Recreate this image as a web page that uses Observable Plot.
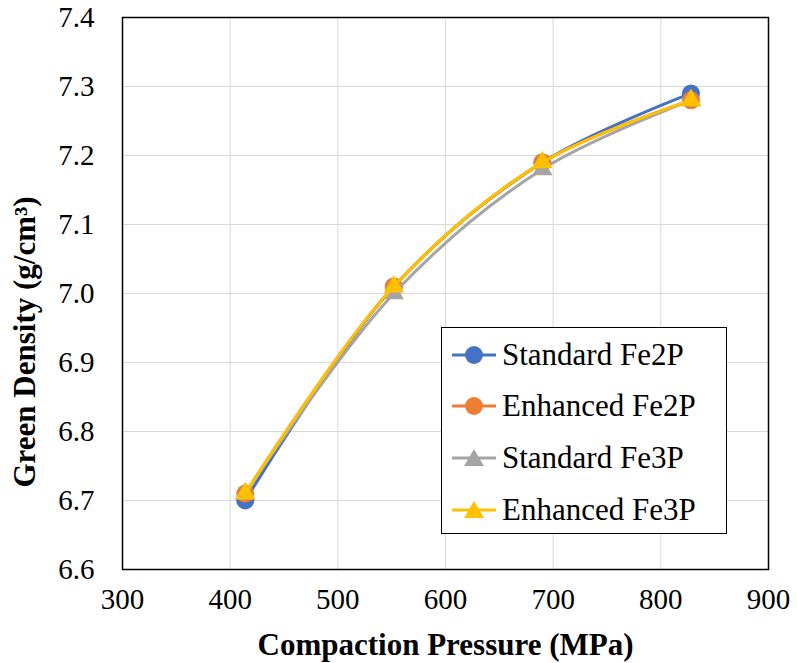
<!DOCTYPE html>
<html>
<head>
<meta charset="utf-8">
<script src="https://cdn.jsdelivr.net/npm/d3@7"></script>
<script src="https://cdn.jsdelivr.net/npm/@observablehq/plot@0.6"></script>
<style>
  body { margin: 0; background: #fff; }
  #wrap { position: relative; width: 797px; height: 663px; font-family: "Times New Roman", Tinos, "Liberation Serif", "DejaVu Serif", "Noto Serif", FreeSerif, serif; }
  #legend { position: absolute; left: 441px; top: 327px; width: 286px; height: 207px; border: 1.5px solid #000; background: #fff; box-sizing: border-box; }
  .item { position: absolute; left: 10px; height: 34px; display: flex; align-items: center; font-size: 31px; color: #000; white-space: nowrap; }
  .item svg { margin-right: 4px; flex: none; }
</style>
</head>
<body>
<div id="wrap"></div>
<script>
const pressure = [414, 552, 690, 828];
const seriesNames = ["Standard Fe2P", "Enhanced Fe2P", "Standard Fe3P", "Enhanced Fe3P"];
const standardFe2P = [6.70, 7.01, 7.19, 7.29];
const enhancedFe2P = [6.71, 7.01, 7.19, 7.28];
const standardFe3P = [6.71, 7.00, 7.18, 7.28];
const enhancedFe3P = [6.71, 7.01, 7.19, 7.28];
const seriesColors = ["#4472C4", "#ED7D31", "#A5A5A5", "#FFC000"];
const seriesSymbols = ["circle", "circle", "triangle", "triangle"];
const xTicks = [300, 400, 500, 600, 700, 800, 900];
const yTicks = [6.6, 6.7, 6.8, 6.9, 7.0, 7.1, 7.2, 7.3, 7.4];

const FONT = "'Times New Roman', Tinos, 'Liberation Serif', 'DejaVu Serif', 'Noto Serif', FreeSerif, serif";
const allValues = [standardFe2P, enhancedFe2P, standardFe3P, enhancedFe3P];
const seriesData = allValues.map((vals, i) => vals.map((v, j) => ({series: seriesNames[i], x: pressure[j], y: v})));

const marks = [
  Plot.gridX(xTicks, {stroke: "#d9d9d9", strokeOpacity: 1, strokeWidth: 1}),
  Plot.gridY(yTicks, {stroke: "#d9d9d9", strokeOpacity: 1, strokeWidth: 1}),
];
seriesData.forEach((d, i) => {
  marks.push(Plot.line(d, {x: "x", y: "y", stroke: seriesColors[i], strokeWidth: 3, curve: "catmull-rom"}));
  marks.push(Plot.dot(d, {x: "x", y: "y", fill: seriesColors[i], symbol: seriesSymbols[i], r: seriesSymbols[i] === "circle" ? 9 : 7.5, stroke: "none"}));
});
marks.push(Plot.frame({stroke: "#000", strokeWidth: 1.5}));
marks.push(Plot.axisX(xTicks, {tickSize: 0, tickPadding: 19, fontSize: 29, fontFamily: FONT, tickFormat: d => String(d), label: null}));
marks.push(Plot.axisY(yTicks, {tickSize: 0, tickPadding: 28, fontSize: 29, fontFamily: FONT, tickFormat: d => d.toFixed(1), label: null}));
marks.push(Plot.text(["Compaction Pressure (MPa)"], {frameAnchor: "bottom", lineAnchor: "middle", textAnchor: "middle", dy: 76, fontSize: 31, fontWeight: "bold", fontFamily: FONT}));
marks.push(Plot.text(["Green Density (g/cm³)"], {frameAnchor: "left", lineAnchor: "middle", textAnchor: "start", dx: -97, dy: 194, rotate: -90, fontSize: 31, fontWeight: "bold", fontFamily: FONT}));

const chart = Plot.plot({
  width: 797,
  height: 663,
  marginLeft: 122,
  marginRight: 29,
  marginTop: 17,
  marginBottom: 94,
  x: {domain: [300, 900]},
  y: {domain: [6.6, 7.4]},
  style: {fontFamily: FONT, color: "#000", background: "#fff"},
  marks
});
const wrap = document.getElementById("wrap");
wrap.appendChild(chart);

const legend = document.createElement("div");
legend.id = "legend";
seriesNames.forEach((name, i) => {
  const item = document.createElement("div");
  item.className = "item";
  item.style.top = (9.5 + i * 51.7) + "px";
  const sym = seriesSymbols[i] === "circle"
    ? `<circle cx="22" cy="17" r="9" fill="${seriesColors[i]}"/>`
    : `<path d="M22,8 L32,25 L12,25 Z" fill="${seriesColors[i]}"/>`;
  item.innerHTML = `<svg width="46" height="34"><line x1="0" y1="17" x2="44" y2="17" stroke="${seriesColors[i]}" stroke-width="3"/>${sym}</svg><span>${name}</span>`;
  legend.appendChild(item);
});
wrap.appendChild(legend);
</script>
</body>
</html>
